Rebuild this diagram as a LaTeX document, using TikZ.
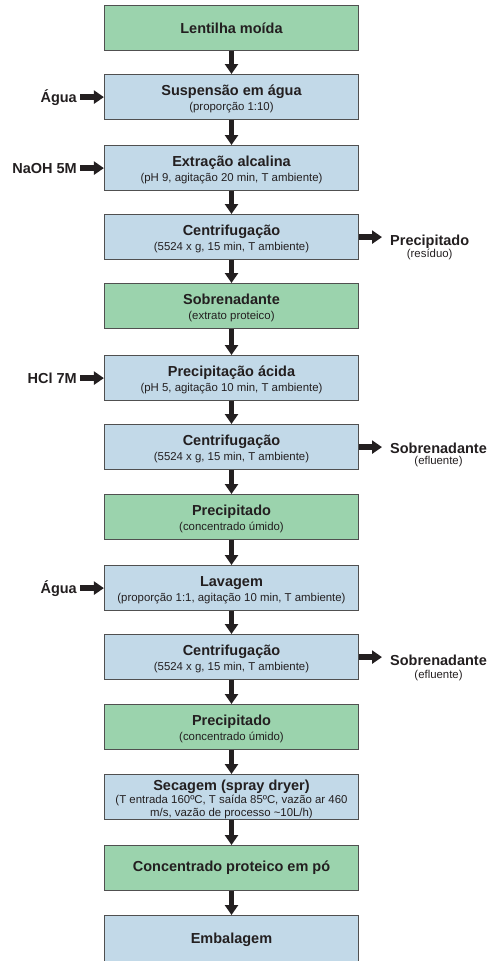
\documentclass[tikz,border=0pt]{standalone}
\usepackage{fontspec}
\setmainfont{Liberation Sans}
\usetikzlibrary{arrows.meta}
\definecolor{greenfill}{RGB}{155,211,173}
\definecolor{bluefill}{RGB}{194,217,232}
\definecolor{boxline}{RGB}{80,80,80}
\definecolor{txt}{RGB}{35,31,32}
\definecolor{arrowc}{RGB}{35,31,32}
\tikzset{
  box/.style={draw=boxline, line width=1.2pt, minimum width=254pt, minimum height=45pt,
    inner sep=0pt, anchor=north, text=txt, font=\fontsize{14.5}{16}\selectfont\bfseries},
  bluebox/.style={box, fill=bluefill},
  greenbox/.style={box, fill=greenfill},
  ttl/.style={font=\fontsize{14.5}{16}\selectfont\bfseries, text=txt, inner sep=0pt, anchor=base},
  subtxt/.style={font=\fontsize{11.4}{13}\selectfont, text=txt, inner sep=0pt, anchor=base},
  sidelbl/.style={ttl, anchor=base east},
  outlbl/.style={ttl, anchor=base west},
  arr/.style={line width=5.5pt, draw=arrowc, -{Triangle[width=13pt,length=10pt]}},
}
\newcommand\flowbox[5]{%
  \node[#3] (#1) at (231.5,#2) {};
  \node[ttl] (#1t) at ([yshift=-21pt]#1.north) {#4};
  \node[subtxt] (#1s) at ([yshift=-36pt]#1.north) {#5};
}
\begin{document}
\begin{tikzpicture}[x=1pt,y=-1pt]
\useasboundingbox (0,0) rectangle (499,961);
% boxes
\node[greenbox] (b1) at (231.5,5) {Lentilha moída};
\flowbox{b2}{74}{bluebox}{Suspensão em água}{(proporção 1:10)}
\flowbox{b3}{145}{bluebox}{Extração alcalina}{(pH 9, agitação 20 min, T ambiente)}
\flowbox{b4}{214}{bluebox}{Centrifugação}{(5524 x g, 15 min, T ambiente)}
\flowbox{b5}{283}{greenbox}{Sobrenadante}{(extrato proteico)}
\flowbox{b6}{355}{bluebox}{Precipitação ácida}{(pH 5, agitação 10 min, T ambiente)}
\flowbox{b7}{424}{bluebox}{Centrifugação}{(5524 x g, 15 min, T ambiente)}
\flowbox{b8}{494}{greenbox}{Precipitado}{(concentrado úmido)}
\flowbox{b9}{565}{bluebox}{Lavagem}{(proporção 1:1, agitação 10 min, T ambiente)}
\flowbox{b10}{634}{bluebox}{Centrifugação}{(5524 x g, 15 min, T ambiente)}
\flowbox{b11}{704}{greenbox}{Precipitado}{(concentrado úmido)}
\node[bluebox] (b12) at (231.5,774) {};
\node[ttl] (b12t) at ([yshift=-16pt]b12.north) {Secagem (spray dryer)};
\node[subtxt] (b12s) at ([yshift=-29.5pt]b12.north) {(T entrada 160ºC, T saída 85ºC, vazão ar 460};
\node[subtxt] (b12u) at ([yshift=-42pt]b12.north) {m/s, vazão de processo \textasciitilde10L/h)};
\node[greenbox] (b13) at (231.5,845) {Concentrado proteico em pó};
\node[bluebox, minimum height=48pt] (b14) at (231.5,915) {Embalagem};
% down arrows
\foreach \a/\b in {b1/b2,b2/b3,b3/b4,b4/b5,b5/b6,b6/b7,b7/b8,b8/b9,b9/b10,b10/b11,b11/b12,b12/b13,b13/b14}
  \draw[arr] (\a.south) -- (\b.north);
% input labels
\node[sidelbl] (l2) at (77,102.2) {Água};
\node[sidelbl] (l3) at (77,173.2) {NaOH 5M};
\node[sidelbl] (l6) at (77,383.2) {HCl 7M};
\node[sidelbl] (l9) at (77,593.2) {Água};
\foreach \l/\b in {l2/b2,l3/b3,l6/b6,l9/b9}
  \draw[arr] ([xshift=3pt]\l.east |- \b.west) -- (\b.west);
% output labels
\node[outlbl] (p4) at (390,245) {Precipitado};
\node[subtxt] (p4s) at ([yshift=-12pt]p4.base) {(resíduo)};
\node[outlbl] (p7) at (390,453) {Sobrenadante};
\node[subtxt] (p7s) at ([yshift=-11.5pt]p7.base) {(efluente)};
\node[outlbl] (p10) at (390,665) {Sobrenadante};
\node[subtxt] (p10s) at ([yshift=-13pt]p10.base) {(efluente)};
\foreach \p/\b in {p4/b4,p7/b7,p10/b10}
  \draw[arr] (\b.east) -- ([xshift=-8pt]\p.west |- \b.east);
\end{tikzpicture}
\end{document}
